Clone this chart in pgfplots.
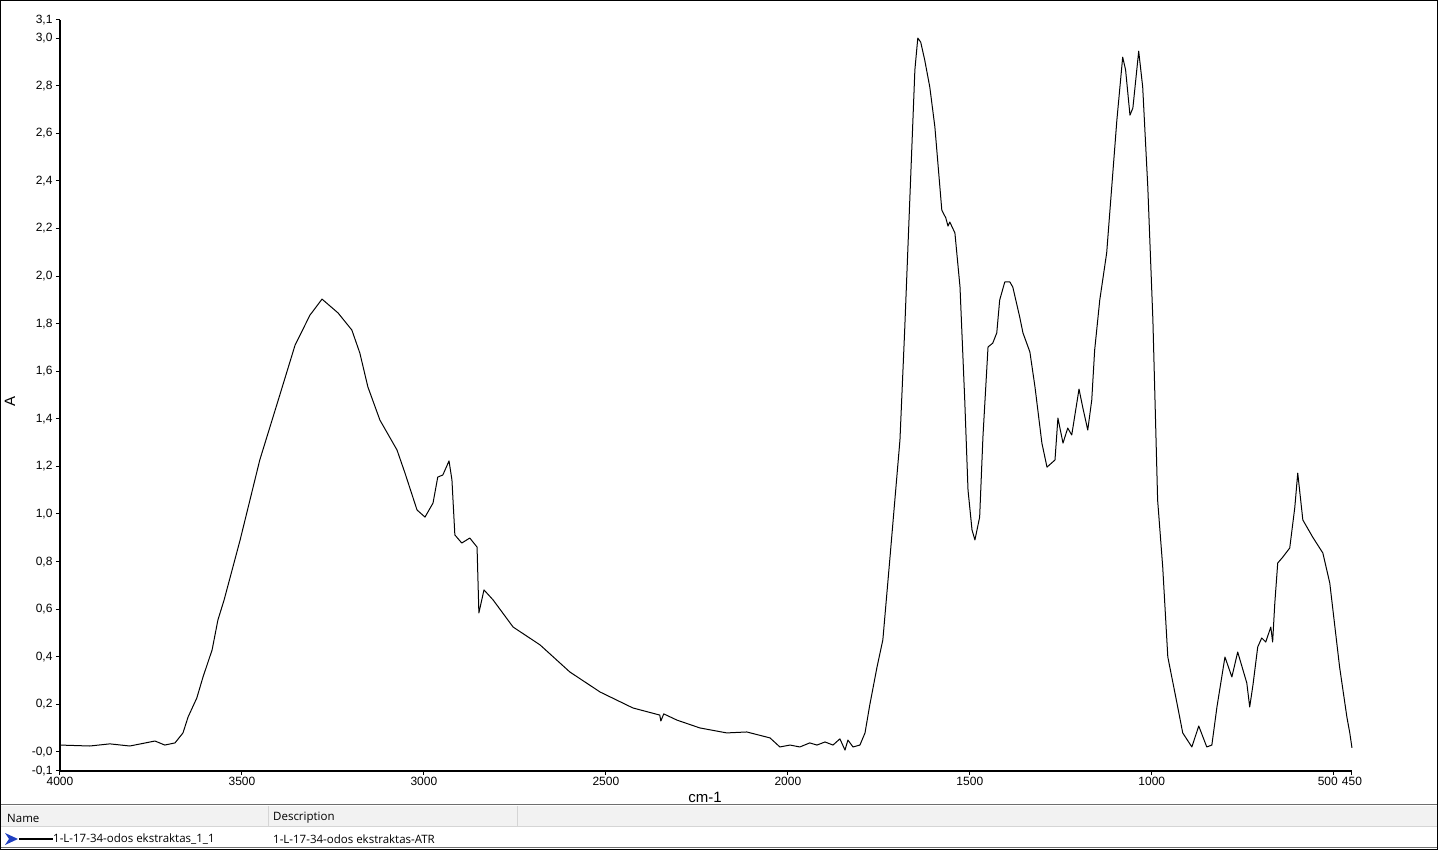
\documentclass[border=0pt]{standalone}
\usepackage{pgfplots}
\pgfplotsset{compat=1.18}
\usepackage{fontspec}
\setmainfont{Liberation Sans}
\newfontfamily\uifont{Open Sans}
\definecolor{hdrbg}{HTML}{F2F2F2}
\definecolor{hdrline}{HTML}{D5D5D5}
\definecolor{winline}{HTML}{6E6E6E}
\definecolor{arrowblue}{HTML}{1F3FC0}

\begin{document}
\begin{tikzpicture}[x=1pt,y=1pt]
\useasboundingbox (0,0) rectangle (1438,850);

\begin{axis}[
    at={(60pt,79pt)}, anchor=south west,
    scale only axis,
    width=1292pt, height=751pt,
    xmin=450, xmax=4000,
    ymin=-0.08, ymax=3.076,
    x dir=reverse,
    axis lines=left,
    axis line style={-, line width=1.2pt},
    tick align=outside,
    major tick length=4pt,
    tick style={black, line width=1pt},
    xtick={4000,3500,3000,2500,2000,1500,1000,500,450},
    xticklabels={4000,3500,3000,2500,2000,1500,1000,{\makebox[0pt][r]{500\hspace{-4pt}}},450},
    ytick={-0.08,0,0.2,0.4,0.6,0.8,1.0,1.2,1.4,1.6,1.8,2.0,2.2,2.4,2.6,2.8,3.0,3.076},
    yticklabels={{-0,1},{-0,0},{0,2},{0,4},{0,6},{0,8},{1,0},{1,2},{1,4},{1,6},{1,8},{2,0},{2,2},{2,4},{2,6},{2,8},{3,0},{3,1}},
    ticklabel style={font=\fontsize{12}{14}\selectfont},
    xticklabel style={yshift=1pt},
    clip=false,
]
\addplot[black, line width=1pt, mark=none, line join=round] coordinates {
(4000,0.029) (3918,0.025) (3863,0.034) (3808,0.025) (3739,0.046) (3712,0.029)
(3684,0.038) (3662,0.080) (3648,0.147) (3624,0.227) (3607,0.315) (3582,0.429)
(3566,0.555) (3549,0.639) (3505,0.891) (3451,1.227) (3396,1.500) (3354,1.710)
(3313,1.836) (3280,1.903) (3236,1.845) (3198,1.773) (3176,1.676) (3154,1.534)
(3121,1.395) (3074,1.269) (3052,1.172) (3019,1.017) (2997,0.987) (2975,1.046)
(2962,1.155) (2948,1.164) (2931,1.223) (2923,1.143) (2915,0.912) (2896,0.878)
(2874,0.899) (2854,0.861) (2849,0.584) (2835,0.681) (2810,0.639) (2755,0.525)
(2681,0.450) (2599,0.336) (2516,0.252) (2426,0.185) (2352,0.155) (2349,0.130)
(2341,0.160) (2305,0.134) (2242,0.101) (2168,0.080) (2113,0.084) (2049,0.059)
(2022,0.021) (1994,0.029) (1967,0.021) (1940,0.038) (1920,0.029) (1898,0.042)
(1876,0.029) (1857,0.055) (1843,0.008) (1835,0.050) (1821,0.021) (1802,0.029)
(1788,0.080) (1775,0.197) (1755,0.357) (1739,0.471) (1720,0.807) (1692,1.311)
(1679,1.773) (1665,2.319) (1651,2.866) (1643,3.000) (1635,2.983) (1624,2.908)
(1610,2.794) (1596,2.626) (1577,2.277) (1566,2.244) (1560,2.210) (1555,2.227)
(1541,2.181) (1527,1.954) (1514,1.479) (1505,1.101) (1494,0.933) (1486,0.891)
(1473,0.987) (1464,1.324) (1450,1.702) (1437,1.718) (1426,1.761) (1418,1.899)
(1404,1.975) (1390,1.975) (1382,1.954) (1363,1.828) (1354,1.761) (1335,1.681)
(1321,1.534) (1302,1.298) (1288,1.197) (1266,1.227) (1258,1.403) (1244,1.298)
(1231,1.361) (1220,1.332) (1200,1.525) (1190,1.450) (1176,1.353) (1165,1.479)
(1157,1.689) (1143,1.899) (1124,2.097) (1096,2.655) (1080,2.920) (1072,2.866)
(1060,2.676) (1052,2.706) (1036,2.945) (1025,2.794) (1011,2.374) (997,1.815)
(984,1.059) (970,0.777) (956,0.399) (931,0.206) (915,0.080) (890,0.021)
(871,0.109) (849,0.021) (835,0.029) (821,0.189) (799,0.399) (780,0.315)
(764,0.420) (739,0.290) (731,0.189) (722,0.282) (709,0.441) (698,0.479)
(687,0.462) (673,0.525) (668,0.462) (662,0.626) (654,0.794) (640,0.819)
(621,0.857) (607,1.029) (599,1.172) (585,0.975) (558,0.903) (530,0.836)
(511,0.710) (484,0.357) (464,0.147) (456,0.080) (450,0.017)
};
\end{axis}

% axis titles
\node[font=\fontsize{15}{17}\selectfont] at (705,53) {cm-1};
\node[font=\fontsize{15}{17}\selectfont, rotate=90] at (10,448) {A};

% legend table below the chart
\fill[hdrbg] (1,44) rectangle (1437,23);
\draw[winline, line width=1pt] (0,45) -- (1438,45);
\draw[hdrline, line width=1pt] (1,23) -- (1437,23);
\draw[hdrline, line width=1pt] (268,44) -- (268,24);
\draw[hdrline, line width=1pt] (517,44) -- (517,24);
\draw[winline, line width=1pt] (0,2) -- (1438,2);
\node[font=\uifont\fontsize{11.5}{13}\selectfont, anchor=west, inner sep=0pt] at (7,32) {Name};
\node[font=\uifont\fontsize{11.5}{13}\selectfont, anchor=west, inner sep=0pt] at (273,32) {Description};
\fill[arrowblue] (5,17) -- (18,11) -- (5,5) -- (9,11) -- cycle;
\draw[black, line width=2pt] (19,11) -- (53,11);
\node[font=\uifont\fontsize{11.5}{13}\selectfont, anchor=west, inner sep=0pt] at (53,11) {1-L-17-34-odos ekstraktas\_1\_1};
\node[font=\uifont\fontsize{11.5}{13}\selectfont, anchor=west, inner sep=0pt] at (273,11) {1-L-17-34-odos ekstraktas-ATR};

% window frame
\draw[black, line width=1pt] (0.5,0.5) rectangle (1437.5,849.5);
\end{tikzpicture}
\end{document}
